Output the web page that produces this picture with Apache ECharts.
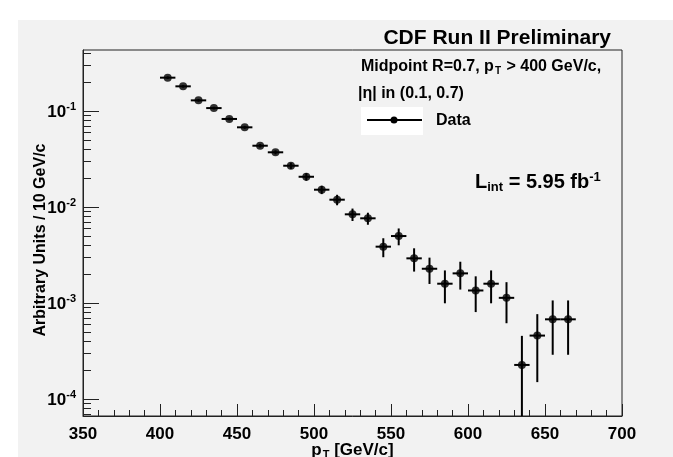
<!DOCTYPE html>
<html>
<head>
<meta charset="utf-8">
<script src="https://cdn.jsdelivr.net/npm/echarts@6/dist/echarts.min.js"></script>
<style>
  html, body { margin: 0; padding: 0; background: #fff; }
  #main { width: 673px; height: 457px; }
</style>
</head>
<body>
<div id="main"></div>
<script>
// bin centres, pT [GeV/c]
var ptBins = [405, 415, 425, 435, 445, 455, 465, 475, 485, 495, 505, 515, 525, 535,
  545, 555, 565, 575, 585, 595, 605, 615, 625, 635, 645, 655, 665];
// arbitrary units / 10 GeV/c
var yields = [0.224, 0.182, 0.130, 0.108, 0.0832, 0.0681, 0.0438, 0.0374, 0.0271, 0.0208,
  0.01525, 0.0120, 0.00845, 0.00768, 0.00389, 0.00502, 0.00294, 0.00229, 0.00160, 0.00205,
  0.00136, 0.00160, 0.00114, 0.000228, 0.000461, 0.000681, 0.000681];
var yieldErr = [0.007, 0.0055, 0.004, 0.0033, 0.0027, 0.0023, 0.0018, 0.0018, 0.002, 0.0019,
  0.00153, 0.0015, 0.00125, 0.0011, 0.00087, 0.001, 0.0008, 0.0007, 0.0006, 0.00066,
  0.00055, 0.0006, 0.00052, 0.00023, 0.00031, 0.00039, 0.00039];
var binHalfWidth = 5;

var xMin = 350, xMax = 700, xStep = 50;
var yMin = 6.7e-5, yMax = 0.435;
var yMajorTicks = [1e-4, 1e-3, 1e-2, 1e-1];
var yMinorTicks = [7e-5, 8e-5, 9e-5,
  2e-4, 3e-4, 4e-4, 5e-4, 6e-4, 7e-4, 8e-4, 9e-4,
  2e-3, 3e-3, 4e-3, 5e-3, 6e-3, 7e-3, 8e-3, 9e-3,
  2e-2, 3e-2, 4e-2, 5e-2, 6e-2, 7e-2, 8e-2, 9e-2,
  2e-1, 3e-1, 4e-1];

var FONT = '"Liberation Sans", Arial, Helvetica, sans-serif';

var points = [];
for (var i = 0; i < ptBins.length; i++) {
  points.push([ptBins[i], yields[i], yieldErr[i]]);
}

var chart = echarts.init(document.getElementById('main'));

var option = {
  backgroundColor: '#fff',
  animation: false,
  textStyle: { fontFamily: FONT },
  title: {
    text: 'CDF Run II Preliminary',
    right: 57,
    top: 23,
    textStyle: { fontFamily: FONT, fontWeight: 'bold', fontSize: 21, color: '#000' }
  },
  grid: {
    left: 83, right: 51, top: 50, bottom: 41,
    outerBoundsMode: 'none',
    containLabel: false,
    show: true,
    borderColor: '#222',
    borderWidth: 1,
    backgroundColor: 'transparent'
  },
  xAxis: {
    type: 'value',
    min: xMin, max: xMax, interval: xStep,
    name: '{a|p}{sub|T}{a| [GeV/c]}',
    nameLocation: 'middle',
    nameGap: 24,
    nameMoveOverlap: false,
    nameTextStyle: {
      rich: {
        a: { fontFamily: FONT, fontWeight: 'bold', fontSize: 17, color: '#000' },
        sub: { fontFamily: FONT, fontWeight: 'bold', fontSize: 11, color: '#000', padding: [9, 0, 0, 1] }
      }
    },
    axisLine: { show: true, lineStyle: { color: '#222', width: 1 } },
    axisTick: { show: true, inside: true, length: 12, lineStyle: { color: '#222' } },
    minorTick: { show: true, splitNumber: 5, length: 6, lineStyle: { color: '#222' } },
    splitLine: { show: false },
    axisLabel: { fontFamily: FONT, fontWeight: 'bold', fontSize: 17, color: '#000', margin: 10 }
  },
  yAxis: [{
    type: 'log',
    logBase: 10,
    min: yMin, max: yMax,
    position: 'left',
    name: 'Arbitrary Units / 10 GeV/c',
    nameLocation: 'middle',
    nameGap: 34,
    nameMoveOverlap: false,
    nameTextStyle: { fontFamily: FONT, fontWeight: 'bold', fontSize: 16, color: '#000', padding: [0, 14, 0, 0] },
    axisLine: { show: true, lineStyle: { color: '#222', width: 1 } },
    axisTick: { show: true, inside: true, length: 16, customValues: yMajorTicks, lineStyle: { color: '#222' } },
    splitLine: { show: false },
    axisLabel: {
      customValues: yMajorTicks,
      margin: 7,
      formatter: function (v) {
        var e = Math.log(v) / Math.LN10;
        if (Math.abs(e - Math.round(e)) > 1e-6) return '';
        return '{b|10}{s|' + Math.round(e) + '}';
      },
      rich: {
        b: { fontFamily: FONT, fontWeight: 'bold', fontSize: 17, color: '#000', padding: [2, 0, 0, 0] },
        s: { fontFamily: FONT, fontWeight: 'bold', fontSize: 11, color: '#000', padding: [0, 0, 9, 0] }
      }
    }
  }, {
    // minor decade ticks 2..9
    type: 'log',
    logBase: 10,
    min: yMin, max: yMax,
    position: 'left',
    axisLine: { show: false },
    axisTick: { show: true, inside: true, length: 8, customValues: yMinorTicks, lineStyle: { color: '#222' } },
    axisLabel: { show: false },
    splitLine: { show: false }
  }],
  series: [
    {
      type: 'custom',
      name: 'Data',
      clip: true,
      data: points,
      encode: { x: 0, y: 1 },
      z: 2,
      renderItem: function (params, api) {
        var x = api.value(0), y = api.value(1), e = api.value(2);
        var lo = y - e > 0 ? y - e : yMin * 0.1;
        var c = api.coord([x, y]);
        var l = api.coord([x - binHalfWidth, y]);
        var r = api.coord([x + binHalfWidth, y]);
        var t = api.coord([x, y + e]);
        var b = api.coord([x, lo]);
        var st = { stroke: '#000', lineWidth: 2 };
        return {
          type: 'group',
          children: [
            { type: 'line', shape: { x1: l[0], y1: c[1], x2: r[0], y2: c[1] }, style: st },
            { type: 'line', shape: { x1: c[0], y1: t[1], x2: c[0], y2: b[1] }, style: st }
          ]
        };
      }
    },
    {
      type: 'scatter',
      name: 'Data',
      data: points,
      encode: { x: 0, y: 1 },
      symbol: 'circle',
      symbolSize: 8,
      itemStyle: { color: '#000' },
      z: 3
    }
  ],
  graphic: [
    { type: 'rect', z: -100, silent: true, shape: { x: 18, y: 20, width: 655, height: 437 }, style: { fill: '#f2f2f2' } },
    {
      type: 'text', left: 361, top: 59,
      style: {
        text: '{a|Midpoint R=0.7, p}{sub|T}{a| > 400 GeV/c,}',
        rich: {
          a: { fontFamily: FONT, fontWeight: 'bold', fontSize: 16, fill: '#000' },
          sub: { fontFamily: FONT, fontWeight: 'bold', fontSize: 10, fill: '#000', padding: [9, 1, 0, 1] }
        }
      }
    },
    {
      type: 'text', left: 358, top: 86,
      style: { text: '|η| in (0.1, 0.7)', font: 'bold 16px ' + FONT, fill: '#000' }
    },
    { type: 'rect', shape: { x: 361, y: 107, width: 62, height: 28 }, style: { fill: '#fff' } },
    { type: 'line', shape: { x1: 367, y1: 120, x2: 422, y2: 120 }, style: { stroke: '#000', lineWidth: 2 } },
    { type: 'circle', shape: { cx: 394, cy: 120, r: 3.5 }, style: { fill: '#000' } },
    {
      type: 'text', left: 436, top: 113,
      style: { text: 'Data', font: 'bold 16px ' + FONT, fill: '#000' }
    },
    {
      type: 'text', left: 475, top: 171,
      style: {
        text: '{a|L}{sub|int}{a| = 5.95 fb}{sup|-1}',
        rich: {
          a: { fontFamily: FONT, fontWeight: 'bold', fontSize: 20, fill: '#000' },
          sub: { fontFamily: FONT, fontWeight: 'bold', fontSize: 13, fill: '#000', padding: [10, 0, 0, 0] },
          sup: { fontFamily: FONT, fontWeight: 'bold', fontSize: 13, fill: '#000', padding: [0, 0, 10, 0] }
        }
      }
    }
  ]
};

chart.setOption(option);
</script>
</body>
</html>
